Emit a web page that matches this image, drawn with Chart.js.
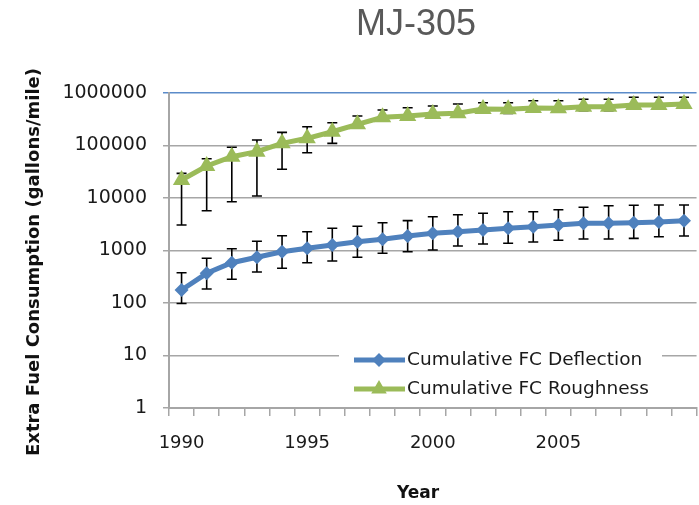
<!DOCTYPE html>
<html>
<head>
<meta charset="utf-8">
<script src="https://cdn.jsdelivr.net/npm/chart.js@4"></script>
<style>
  html, body { margin: 0; padding: 0; background: #fff; overflow: hidden; }
  #wrap { position: relative; width: 701px; height: 505px; }
</style>
</head>
<body>
<div id="wrap"><canvas id="myChart"></canvas></div>
<script>
const years = ['1990', '1991', '1992', '1993', '1994', '1995', '1996', '1997', '1998', '1999', '2000',
    '2001', '2002', '2003', '2004', '2005', '2006', '2007', '2008', '2009', '2010'];
const xTickLabels = ['1990', '1995', '2000', '2005'];
const yTickValues = [1, 10, 100, 1000, 10000, 100000, 1000000];

const deflection = [177, 368, 586, 742, 948, 1101, 1273, 1472, 1634, 1888, 2125,
    2281, 2455, 2650, 2844, 3063, 3296, 3296, 3390, 3490, 3700];
const deflectionHigh = [378, 710, 1082, 1497, 1914, 2281, 2650, 2893, 3388, 3700, 4403,
    4808, 5114, 5482, 5482, 5985, 6655, 7100, 7300, 7360, 7360];
const deflectionLow = [98, 185, 283, 389, 458, 586, 631, 742, 884, 948, 1023,
    1218, 1330, 1372, 1452, 1564, 1656, 1656, 1700, 1832, 1888];

const roughness = [22000, 40700, 61200, 76200, 110000, 137000, 183000, 253000, 344000, 365000, 398000,
    410000, 495000, 488000, 518000, 511000, 548000, 548000, 591000, 591000, 620000];
const roughnessHigh = [29500, 56100, 92400, 127000, 178000, 228000, 272000, 365000, 474000, 525000, 565000,
    617000, 653000, 653000, 713000, 713000, 758000, 758000, 828000, 828000, 828000];
const roughnessLow = [3063, 5730, 8500, 10900, 35200, 72900, 110000, 215000, 290000, 305000, 335000,
    345000, 415000, 410000, 435000, 430000, 460000, 460000, 495000, 495000, 520000];

const blue = '#4f81bd';
const green = '#9bbb59';
const gridGray = '#a6a6a6';

// error bars, drawn under the series like the original
const errorBars = {
    id: 'errorBars',
    beforeDatasetsDraw(chart) {
        const { ctx, scales: { x, y } } = chart;
        ctx.save();
        ctx.strokeStyle = '#000';
        ctx.lineWidth = 1.6;
        [[deflectionLow, deflectionHigh], [roughnessLow, roughnessHigh]].forEach(([lo, hi]) => {
            years.forEach((yr, i) => {
                const px = x.getPixelForValue(i);
                const top = y.getPixelForValue(hi[i]);
                const bot = y.getPixelForValue(lo[i]);
                ctx.beginPath();
                ctx.moveTo(px, top); ctx.lineTo(px, bot);
                ctx.moveTo(px - 5, top); ctx.lineTo(px + 5, top);
                ctx.moveTo(px - 5, bot); ctx.lineTo(px + 5, bot);
                ctx.stroke();
            });
        });
        ctx.restore();
    }
};

function marker(ctx, style, cx, cy, r, color) {
    ctx.fillStyle = color;
    ctx.beginPath();
    if (style === 'rectRot') {
        ctx.moveTo(cx, cy - r); ctx.lineTo(cx + r, cy); ctx.lineTo(cx, cy + r); ctx.lineTo(cx - r, cy);
    } else {
        ctx.moveTo(cx, cy - r); ctx.lineTo(cx + r * 0.866, cy + r / 2); ctx.lineTo(cx - r * 0.866, cy + r / 2);
    }
    ctx.closePath();
    ctx.fill();
}

// titles + legend inside the plot
const decorations = {
    id: 'decorations',
    afterDraw(chart) {
        const ctx = chart.ctx;
        ctx.save();
        ctx.textAlign = 'center';
        ctx.textBaseline = 'middle';
        ctx.fillStyle = '#595959';
        ctx.font = '36px "Liberation Sans"';
        ctx.fillText('MJ-305', 416, 25);

        ctx.fillStyle = '#111';
        ctx.font = 'bold 17px "DejaVu Sans"';
        ctx.fillText('Year', 418, 494);
        ctx.translate(34, 262);
        ctx.rotate(-Math.PI / 2);
        ctx.font = 'bold 18px "DejaVu Sans"';
        ctx.fillText('Extra Fuel Consumption (gallons/mile)', 0, 0);
        ctx.restore();

        // legend
        ctx.save();
        ctx.fillStyle = '#fff';
        ctx.fillRect(339, 343, 323, 60);
        chart.data.datasets.forEach((ds, i) => {
            const ly = 360 + i * 29;
            ctx.strokeStyle = ds.borderColor;
            ctx.lineWidth = 5;
            ctx.beginPath();
            ctx.moveTo(354, ly); ctx.lineTo(405, ly);
            ctx.stroke();
            marker(ctx, ds.pointStyle, 379, ly, i === 0 ? 7 : 9, ds.borderColor);
            ctx.fillStyle = '#1a1a1a';
            ctx.font = '18.5px "DejaVu Sans"';
            ctx.textAlign = 'left';
            ctx.textBaseline = 'middle';
            ctx.fillText(ds.label, 407, ly);
        });
        ctx.restore();
    }
};

new Chart(document.getElementById('myChart'), {
    type: 'line',
    data: {
        labels: years,
        datasets: [{
            label: 'Cumulative FC Deflection',
            data: deflection,
            borderColor: blue,
            backgroundColor: blue,
            borderWidth: 5,
            pointStyle: 'rectRot',
            pointRadius: 7,
            pointBorderWidth: 0,
        }, {
            label: 'Cumulative FC Roughness',
            data: roughness,
            borderColor: green,
            backgroundColor: green,
            borderWidth: 5,
            pointStyle: 'triangle',
            pointRadius: 10,
            pointBorderWidth: 0,
        }]
    },
    options: {
        responsive: true,
        maintainAspectRatio: false,
        animation: false,
        layout: { autoPadding: false, padding: { top: 93, left: 0, right: 0, bottom: 0 } },
        plugins: {
            legend: { display: false },
            title: { display: false },
            tooltip: { enabled: false },
        },
        scales: {
            x: {
                offset: true,
                afterFit: (scale) => { scale.height = 97; },
                grid: {
                    offset: true,
                    drawOnChartArea: false,
                    tickLength: 8,
                    color: gridGray,
                    lineWidth: 1.5,
                },
                border: { color: gridGray, width: 2 },
                ticks: {
                    autoSkip: false,
                    maxRotation: 0,
                    padding: 17,
                    color: '#1a1a1a',
                    font: { family: 'DejaVu Sans', size: 18 },
                    callback: function (value) {
                        const lab = this.getLabelForValue(value);
                        return xTickLabels.includes(lab) ? lab : '';
                    }
                }
            },
            y: {
                type: 'logarithmic',
                min: 1,
                max: 1000000,
                afterFit: (scale) => { scale.width = 169; },
                afterBuildTicks: (scale) => {
                    scale.ticks = yTickValues.map((v) => ({ value: v }));
                },
                grid: {
                    color: (c) => (c.tick && c.tick.value === 1000000 ? '#5b8bc9' : gridGray),
                    lineWidth: 1.5,
                    tickLength: 6,
                },
                border: { color: gridGray, width: 2 },
                ticks: {
                    padding: 16,
                    color: '#1a1a1a',
                    font: { family: 'DejaVu Sans', size: 19 },
                    callback: (value) => String(value),
                }
            }
        }
    },
    plugins: [errorBars, decorations]
});
</script>
</body>
</html>
